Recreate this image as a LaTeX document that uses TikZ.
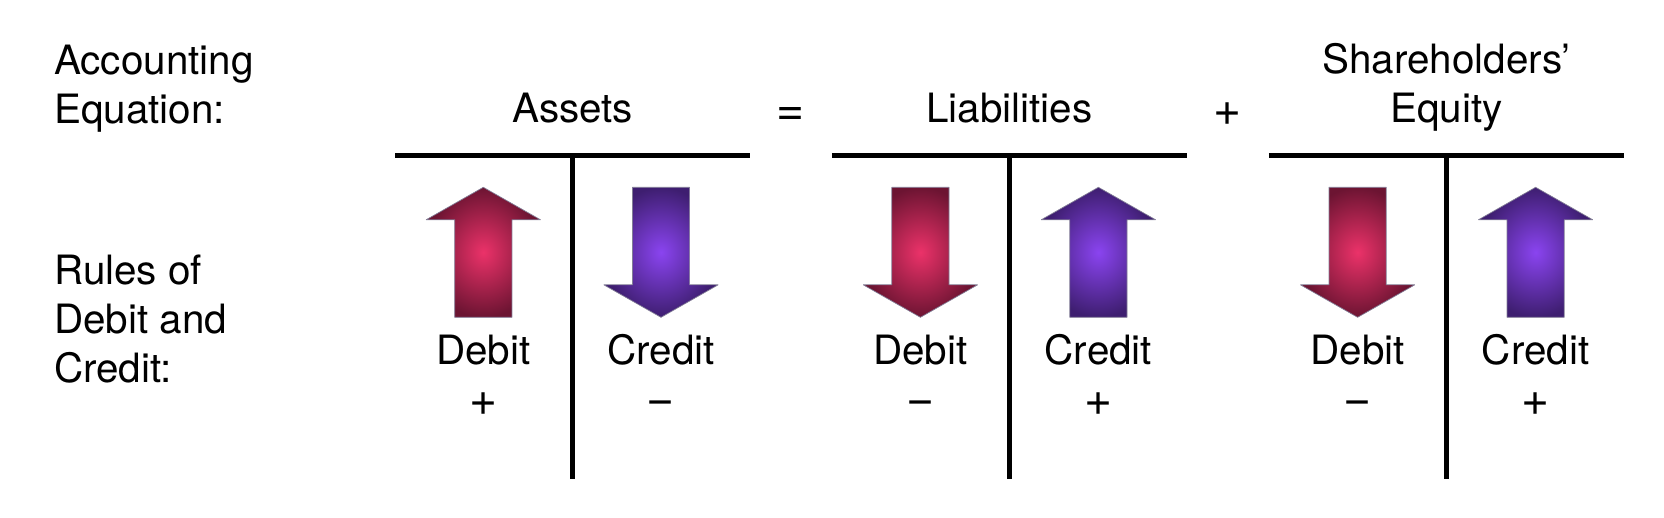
\documentclass[tikz,border=0pt]{standalone}
\usepackage{fontspec}
\setmainfont{TeX Gyre Heros}
\definecolor{redmid}{RGB}{235,50,105}
\definecolor{redout}{RGB}{108,20,50}
\definecolor{bluemid}{RGB}{138,68,240}
\definecolor{blueout}{RGB}{62,30,112}
\definecolor{edgegray}{RGB}{130,125,150}
\tikzset{
  txt/.style = {font=\fontsize{40.4}{49}\selectfont, inner sep=0pt, align=center, anchor=base},
  side/.style = {txt, align=left, anchor=north west},
  sign/.style = {txt, font=\fontsize{48}{48}\selectfont},
  rule/.style = {line width=5.2pt},
  debitfill/.style = {inner color=redmid, outer color=redout, draw=edgegray, line width=0.7pt, line join=bevel},
  creditfill/.style = {inner color=bluemid, outer color=blueout, draw=edgegray, line width=0.7pt, line join=bevel},
  uparrow/.pic = {\path[pic actions] (0,-65) -- (57.2,-32.5) -- (28.6,-32.5) -- (28.6,65) -- (-28.6,65) -- (-28.6,-32.5) -- (-57.2,-32.5) -- cycle;}
}
\begin{document}
\begin{tikzpicture}[x=1pt, y=-1pt]
  \useasboundingbox (0,0) rectangle (1664,518);
  \node[side] (accounting) at (54,45) {Accounting\\Equation:};
  \node[side] (rules) at (54,255) {Rules of\\Debit and\\Credit:};
  %
  \node[txt] (assets) at (572.7,122.3) {Assets};
  \node[sign] (equals) at (790.6,125.6) {=};
  \node[txt] (liabilities) at (1009.4,122.3) {Liabilities};
  \node[sign] (plus) at (1227.8,125.3) {+};
  \node[txt, anchor=center] (equity) at (1446.4,87.5) {Shareholders’\\Equity};
  %
  \coordinate (al) at (395,155.3);
  \coordinate (ar) at (750.4,155.3);
  \coordinate (at) at (572.7,155.3);
  \coordinate (ab) at (572.7,479);
  \coordinate (ll) at (831.8,155.3);
  \coordinate (lr) at (1187.2,155.3);
  \coordinate (lt) at (1009.4,155.3);
  \coordinate (lb) at (1009.4,479);
  \coordinate (el) at (1268.8,155.3);
  \coordinate (er) at (1624.2,155.3);
  \coordinate (et) at (1446.4,155.3);
  \coordinate (eb) at (1446.4,479);
  \draw[rule] (al) -- (ar);
  \draw[rule] (at) -- (ab);
  \draw[rule] (ll) -- (lr);
  \draw[rule] (lt) -- (lb);
  \draw[rule] (el) -- (er);
  \draw[rule] (et) -- (eb);
  %
  \pic[debitfill] at (483.3,252.3) {uparrow};
  \pic[creditfill, rotate=180] at (661,252.3) {uparrow};
  \pic[debitfill, rotate=180] at (920.4,252.3) {uparrow};
  \pic[creditfill] at (1098.4,252.3) {uparrow};
  \pic[debitfill, rotate=180] at (1357.6,252.3) {uparrow};
  \pic[creditfill] at (1535.6,252.3) {uparrow};
  %
  \node[txt] (debita) at (483.3,364.8) {Debit};
  \node[sign] (signa) at (483.3,415.7) {+};
  \node[txt] (credita) at (661,364.8) {Credit};
  \node[sign] (signb) at (661,414.9) {−};
  \node[txt] (debitb) at (920.4,364.8) {Debit};
  \node[sign] (signc) at (920.4,414.9) {−};
  \node[txt] (creditb) at (1098.4,364.8) {Credit};
  \node[sign] (signd) at (1098.4,415.7) {+};
  \node[txt] (debitc) at (1357.6,364.8) {Debit};
  \node[sign] (signe) at (1357.6,414.9) {−};
  \node[txt] (creditc) at (1535.6,364.8) {Credit};
  \node[sign] (signf) at (1535.6,415.7) {+};
\end{tikzpicture}
\end{document}
